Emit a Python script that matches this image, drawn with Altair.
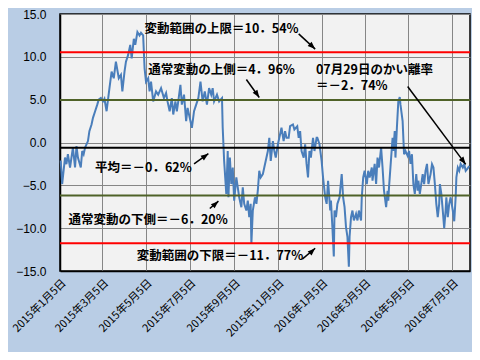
import altair as alt
import pandas as pd

START = "2015-01-05"

# days since 2015-01-05 and deviation rate (%)
day_offsets = [1, 3, 7, 9, 11, 14, 18, 21, 23, 25, 29, 31, 33, 35, 39, 41, 44, 46, 49, 52,
               54, 57, 60, 62, 65, 69, 72, 75, 78, 82, 85, 87, 90, 92, 95, 98, 100, 103, 105, 108,
               111, 113, 116, 118, 120, 123, 125, 127, 130, 134, 137, 141, 145, 148, 150, 153, 156, 158, 161, 163,
               165, 168, 170, 173, 176, 178, 181, 184, 187, 190, 193, 196, 199, 202, 205, 208, 211, 213, 215, 219,
               222, 226, 227, 229, 232, 234, 235, 237, 239, 241, 243, 246, 248, 250, 253, 255, 257, 260, 262, 264,
               266, 267, 269, 272, 274, 276, 278, 280, 283, 285, 290, 292, 294, 297, 299, 301, 304, 306, 309, 312,
               314, 316, 319, 321, 325, 327, 331, 333, 335, 337, 340, 342, 344, 346, 348, 350, 353, 355, 358, 359,
               362, 365, 367, 370, 372, 374, 377, 378, 380, 382, 383, 385, 387, 390, 393, 395, 397, 399, 401, 403,
               404, 406, 408, 410, 413, 415, 417, 420, 421, 423, 425, 428, 430, 432, 435, 436, 439, 441, 443, 445,
               448, 450, 452, 455, 457, 458, 459, 461, 464, 465, 467, 468, 470, 472, 474, 475, 478, 480, 482, 485,
               487, 489, 491, 493, 495, 497, 499, 500, 502, 504, 506, 508, 510, 512, 514, 517, 519, 521, 523, 525,
               527, 529, 530, 532, 534, 536, 538, 539, 541, 543, 545, 548, 550, 552, 553, 555, 557, 559, 562, 564,
               566, 568, 571]
rates = [-2.1, -4.85, -1.76, -2.53, -1.37, -2.92, -0.6, -2.92, -0.41, -1.76, -2.92, -0.99, -1.37, -0.6, 0.17, 1.33, 2.1, 2.88, 3.65, 4.42,
         5.0, 5.19, 4.8, 5.1, 3.65, 6.35, 8.28, 7.5, 9.44, 7.5, 7.9, 5.96, 8.28, 9.44, 10.2, 11.4, 9.83, 12.1, 11.4, 12.9,
         12.5, 12.8, 12.5, 8.66, 7.1, 7.5, 5.96, 7.1, 4.8, 5.96, 5.58, 6.35, 5.19, 5.77, 4.8, 3.65, 5.19, 3.27, 4.8, 3.65,
         4.8, 6.74, 4.42, 5.58, 2.49, 4.03, 2.88, 1.72, 3.65, 4.42, 5.19, 7.1, 4.8, 5.96, 4.42, 6.35, 5.58, 6.35, 4.8, 5.58,
         4.8, 5.19, 1.72, -2.14, -6.0, -1.0, -6.4, -1.76, -4.85, -2.92, -6.78, -4.08, -5.24, -6.4, -7.55, -5.24, -7.16, -7.94, -6.78, -8.71,
         -7.16, -11.8, -7.94, -6.4, -7.16, -5.6, -3.3, -4.08, -3.69, -2.92, -1.0, 0.55, -2.14, 0.17, -0.99, -1.76, -0.21, 0.55, 1.72, 0.17,
         1.33, 0.55, 0.55, 1.9, 2.1, 1.52, 1.9, 0.55, 1.33, -1.0, -1.76, -0.21, -2.5, -4.08, -0.99, -1.76, 0.55, -0.99, 0.55, 0.55,
         -0.21, -2.14, -4.1, -6.4, -7.16, -4.46, -7.94, -6.78, -9.87, -13.3, -7.94, -8.71, -7.16, -6.4, -3.68, -6.4, -7.55, -9.87, -11.0, -14.5,
         -11.0, -8.71, -7.94, -9.1, -8.33, -9.1, -7.94, -9.1, -6.4, -4.08, -3.3, -4.85, -3.3, -4.08, -2.92, -4.46, -2.5, -4.85, -1.76, -2.92,
         -0.6, -2.92, -5.6, -7.55, -5.63, -6.78, -5.24, -2.92, 0.55, -0.99, 1.33, -1.76, 1.72, 4.8, 5.3, 4.42, 2.49, -1.37, -0.99, -1.56,
         -0.99, -2.5, -1.37, -4.85, -6.0, -3.69, -5.63, -4.46, -6.0, -4.85, -3.69, -4.85, -3.3, -2.5, -4.85, -3.69, -2.53, -2.92, -4.85, -7.16,
         -8.7, -7.16, -4.85, -6.0, -7.94, -10.0, -7.94, -6.4, -8.71, -7.16, -6.4, -7.94, -9.2, -6.4, -4.08, -2.92, -3.3, -2.5, -2.92, -2.53,
         -3.3, -3.1, -2.74]

tick_dates = ["2015-01-05", "2015-03-05", "2015-05-05", "2015-07-05", "2015-09-05", "2015-11-05",
              "2016-01-05", "2016-03-05", "2016-05-05", "2016-07-05"]
y_ticks = [-15, -10, -5, 0, 5, 10, 15]

# reference levels
level_values = [10.54, 4.96, -0.62, -6.20, -11.77]
level_colors = ["#ff0000", "#4f6228", "#000000", "#4f6228", "#ff0000"]

# annotation texts: (day offset, value)
note_texts = ["変動範囲の上限＝10．54%", "通常変動の上側＝4．96%", "07月29日のかい離率\n＝－2．74%",
              "平均＝－0．62%", "通常変動の下側＝－6．20%", "変動範囲の下限＝－11．77%"]
note_days = [118, 123, 357, 49, 12, 107]
note_vals = [13.26, 8.51, 8.52, -2.95, -9.09, -13.26]

# arrows: tail (day, value) -> head (day, value), head angle
arrow_tail_days = [333, 260, 485, 187, 209, 338]
arrow_tail_vals = [12.68, 7.36, 6.54, -2.49, -7.70, -13.61]
arrow_head_days = [356, 278, 566, 207, 221, 356]
arrow_head_vals = [10.90, 5.25, -2.55, -1.30, -6.85, -12.35]
arrow_angles = [133, 146, 143, 54, 48, 47]

start = pd.Timestamp(START)
to_date = lambda d: (start + pd.Timedelta(days=int(d))).strftime("%Y-%m-%d")

df = pd.DataFrame({"date": [to_date(d) for d in day_offsets], "rate": rates})
levels = pd.DataFrame({"v": level_values, "c": level_colors, "k": list(range(len(level_values)))})
notes = pd.DataFrame({"date": [to_date(d) for d in note_days], "v": note_vals, "t": note_texts})
arrows = pd.DataFrame({
    "d1": [to_date(d) for d in arrow_tail_days], "v1": arrow_tail_vals,
    "d2": [to_date(d) for d in arrow_head_days], "v2": arrow_head_vals,
    "ang": arrow_angles,
})

x_scale = alt.Scale(domain=["2015-01-05", "2016-07-30"])
y_scale = alt.Scale(domain=[-15, 15], nice=False)

x_axis = alt.Axis(values=tick_dates, format="%Y年%-m月%-d日", labelAngle=-45, labelAlign="right",
                  labelBaseline="middle", labelFont="Noto Sans CJK JP", labelFontSize=11,
                  labelColor="#000000", labelPadding=10, labelOffset=4, ticks=False, grid=True,
                  gridColor="#868686", gridWidth=1, domainColor="#000000", domainWidth=1.5,
                  title=None, labelOverlap=False)
y_axis = alt.Axis(values=y_ticks, format=".1f", labelFont="Liberation Sans", labelFontSize=12,
                  labelColor="#000000", labelPadding=14, ticks=False, grid=True, gridColor="#868686",
                  gridWidth=1, domainColor="#000000", domainWidth=1.5, title=None)

base_line = alt.Chart(df).mark_line(color="#4a7ebb", strokeWidth=2).encode(
    x=alt.X("date:T", scale=x_scale, axis=x_axis),
    y=alt.Y("rate:Q", scale=y_scale, axis=y_axis),
)

level_rules = alt.Chart(levels).mark_rule(strokeWidth=2).encode(
    y=alt.Y("v:Q", scale=y_scale),
    color=alt.Color("c:N", scale=None),
)

note_marks = alt.Chart(notes).mark_text(align="left", baseline="middle", font="Noto Sans CJK JP",
                                        fontSize=12.5, fontWeight="bold", color="#000000",
                                        lineBreak="\n", lineHeight=16).encode(
    x=alt.X("date:T", scale=x_scale),
    y=alt.Y("v:Q", scale=y_scale),
    text="t:N",
)

arrow_shafts = alt.Chart(arrows).mark_rule(color="#000000", strokeWidth=1.5).encode(
    x=alt.X("d1:T", scale=x_scale), y=alt.Y("v1:Q", scale=y_scale),
    x2="d2:T", y2="v2:Q",
)
arrow_heads = alt.Chart(arrows).mark_point(
    shape="M0,0L-0.6,1.6L0.6,1.6Z", filled=True, color="#000000", opacity=1, size=90
).encode(
    x=alt.X("d2:T", scale=x_scale), y=alt.Y("v2:Q", scale=y_scale),
    angle=alt.Angle("ang:Q", scale=None),
)

chart = alt.layer(base_line, level_rules, note_marks, arrow_shafts, arrow_heads).properties(
    width=410, height=257,
    background="#b9cde5",
    padding={"left": 52, "top": 6, "right": 2, "bottom": 81},
    autosize=alt.AutoSizeParams(type="none"),
).configure_view(
    fill="#f2f2f2", stroke="#000000", strokeWidth=1.5
)

chart.save("out.html", embed_options={"renderer": "svg", "actions": False})
